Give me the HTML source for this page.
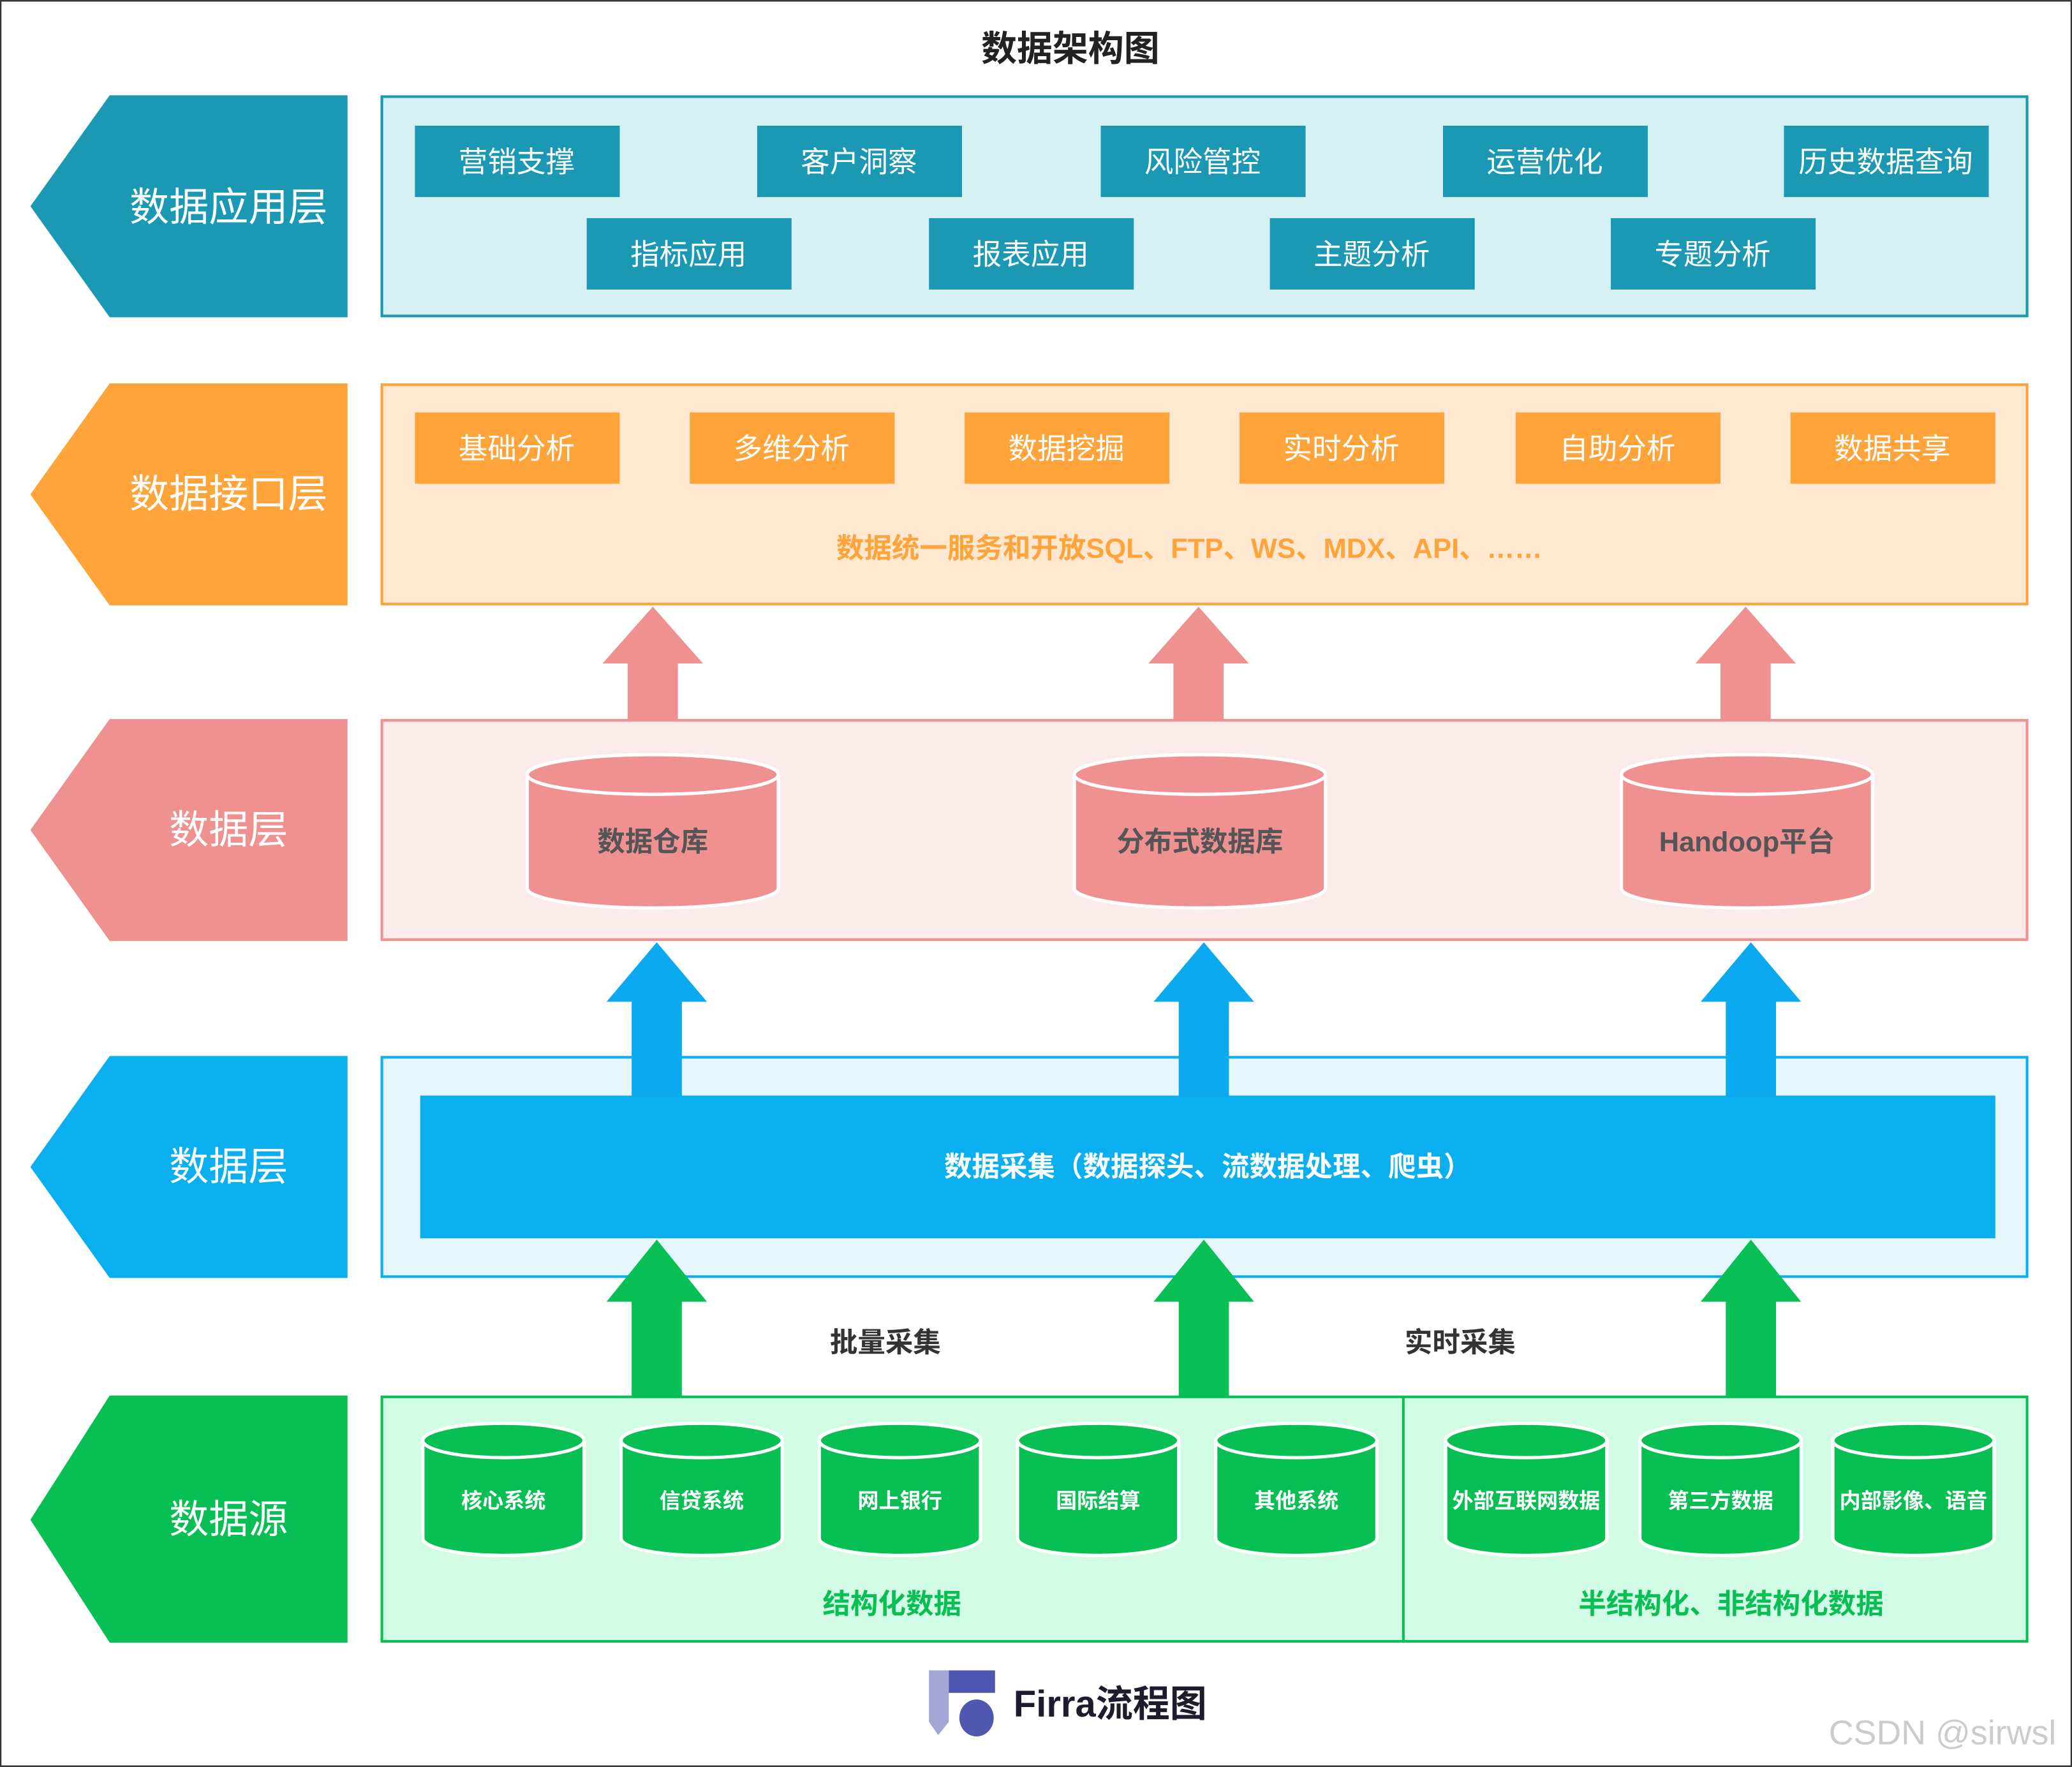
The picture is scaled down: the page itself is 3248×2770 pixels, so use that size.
<!DOCTYPE html>
<html><head><meta charset="utf-8"><style>
html,body{margin:0;padding:0;background:#fff}
svg{display:block}
text{font-family:"Liberation Sans","Noto Sans CJK SC",sans-serif}
</style></head><body>
<svg width="3248" height="2770" viewBox="0 0 1568 1337" xmlns="http://www.w3.org/2000/svg">
<rect x="0.5" y="0.5" width="1567" height="1336" fill="#fff" stroke="#333" stroke-width="1.2"/>
<text x="810" y="46" font-size="27" font-weight="bold" text-anchor="middle" fill="#222">数据架构图</text>

<!-- Layer 1 -->
<polygon points="83,72 263,72 263,240 83,240 23,156" fill="#1a98b4"/>
<text x="173" y="167" font-size="30" fill="#fff" text-anchor="middle">数据应用层</text>
<rect x="289" y="73" width="1245" height="166" fill="#d5f1f3" stroke="#1a98b4" stroke-width="2"/>
<g fill="#1a98b4">
<rect x="314" y="95" width="155" height="54"/><rect x="573" y="95" width="155" height="54"/><rect x="833" y="95" width="155" height="54"/><rect x="1092" y="95" width="155" height="54"/><rect x="1350" y="95" width="155" height="54"/>
<rect x="444" y="165" width="155" height="54"/><rect x="703" y="165" width="155" height="54"/><rect x="961" y="165" width="155" height="54"/><rect x="1219" y="165" width="155" height="54"/>
</g>
<g fill="#fff" font-size="22" text-anchor="middle">
<text x="391" y="130">营销支撑</text><text x="650" y="130">客户洞察</text><text x="910" y="130">风险管控</text><text x="1169" y="130">运营优化</text><text x="1427" y="130">历史数据查询</text>
<text x="521" y="200">指标应用</text><text x="780" y="200">报表应用</text><text x="1038" y="200">主题分析</text><text x="1296" y="200">专题分析</text>
</g>

<!-- Layer 2 -->
<polygon points="83,290 263,290 263,458 83,458 23,374" fill="#ffa43a"/>
<text x="173" y="384" font-size="30" fill="#fff" text-anchor="middle">数据接口层</text>
<rect x="289" y="291" width="1245" height="166" fill="#fee8d1" stroke="#ffa43a" stroke-width="2"/>
<g fill="#ffa43a">
<rect x="314" y="312" width="155" height="54"/><rect x="522" y="312" width="155" height="54"/><rect x="730" y="312" width="155" height="54"/><rect x="938" y="312" width="155" height="54"/><rect x="1147" y="312" width="155" height="54"/><rect x="1355" y="312" width="155" height="54"/>
</g>
<g fill="#fff" font-size="22" text-anchor="middle">
<text x="391" y="347">基础分析</text><text x="599" y="347">多维分析</text><text x="807" y="347">数据挖掘</text><text x="1015" y="347">实时分析</text><text x="1224" y="347">自助分析</text><text x="1432" y="347">数据共享</text>
</g>
<text x="900" y="422" font-size="21" font-weight="bold" fill="#ffa43a" text-anchor="middle">数据统一服务和开放SQL、FTP、WS、MDX、API、……</text>

<!-- pink arrows -->
<g fill="#ef9191">
<polygon points="494,459 532,502 513,502 513,575 475,575 475,502 456,502"/>
<polygon points="907,459 945,502 926,502 926,575 888,575 888,502 869,502"/>
<polygon points="1321,459 1359,502 1340,502 1340,575 1302,575 1302,502 1283,502"/>
</g>

<!-- Layer 3 -->
<polygon points="83,544 263,544 263,712 83,712 23,628" fill="#ef9191"/>
<text x="173" y="638" font-size="30" fill="#fff" text-anchor="middle">数据层</text>
<rect x="289" y="545" width="1245" height="166" fill="#fbeceb" stroke="#ef9191" stroke-width="2"/>
<g fill="#ef9191" stroke="#fff" stroke-width="2.5">
<path d="M399,586 A95,15 0 0 1 589,586 L589,672 A95,15 0 0 1 399,672 Z"/><ellipse cx="494" cy="586" rx="95" ry="15"/>
<path d="M813,586 A95,15 0 0 1 1003,586 L1003,672 A95,15 0 0 1 813,672 Z"/><ellipse cx="908" cy="586" rx="95" ry="15"/>
<path d="M1227,586 A95,15 0 0 1 1417,586 L1417,672 A95,15 0 0 1 1227,672 Z"/><ellipse cx="1322" cy="586" rx="95" ry="15"/>
</g>
<g fill="#555" font-size="21" font-weight="bold" text-anchor="middle">
<text x="494" y="644">数据仓库</text><text x="908" y="644">分布式数据库</text><text x="1322" y="644">Handoop平台</text>
</g>

<!-- blue arrows -->
<g fill="#0aa9f0">
<polygon points="497,713 535,758 516,758 516,830 478,830 478,758 459,758"/>
<polygon points="911,713 949,758 930,758 930,830 892,830 892,758 873,758"/>
<polygon points="1325,713 1363,758 1344,758 1344,830 1306,830 1306,758 1287,758"/>
</g>

<!-- Layer 4 -->
<polygon points="83,799 263,799 263,967 83,967 23,883" fill="#0aaff0"/>
<text x="173" y="893" font-size="30" fill="#fff" text-anchor="middle">数据层</text>
<rect x="289" y="800" width="1245" height="166" fill="#e6f6fd" stroke="#0aaff0" stroke-width="2"/>
<rect x="318" y="829" width="1192" height="108" fill="#0aaff0"/>
<rect x="478" y="800" width="38" height="30" fill="#0aa9f0"/><rect x="892" y="800" width="38" height="30" fill="#0aa9f0"/><rect x="1306" y="800" width="38" height="30" fill="#0aa9f0"/>
<text x="914" y="890" font-size="21" font-weight="bold" fill="#fff" text-anchor="middle">数据采集（数据探头、流数据处理、爬虫）</text>

<!-- green arrows -->
<g fill="#08c055">
<polygon points="497,938 535,985 516,985 516,1057 478,1057 478,985 459,985"/>
<polygon points="911,938 949,985 930,985 930,1057 892,1057 892,985 873,985"/>
<polygon points="1325,938 1363,985 1344,985 1344,1057 1306,1057 1306,985 1287,985"/>
</g>
<text x="670" y="1023" font-size="21" font-weight="bold" fill="#333" text-anchor="middle">批量采集</text>
<text x="1105" y="1023" font-size="21" font-weight="bold" fill="#333" text-anchor="middle">实时采集</text>

<!-- Layer 5 -->
<polygon points="83,1056 263,1056 263,1243 83,1243 23,1150" fill="#08bf54"/>
<text x="173" y="1160" font-size="30" fill="#fff" text-anchor="middle">数据源</text>
<rect x="289" y="1057" width="1245" height="185" fill="#d3fce6" stroke="#08bf54" stroke-width="2"/>
<line x1="1062" y1="1057" x2="1062" y2="1242" stroke="#08bf54" stroke-width="2"/>
<g fill="#08bf54" stroke="#fff" stroke-width="2.5">
<path d="M320,1090 A61,13 0 0 1 442,1090 L442,1164 A61,13 0 0 1 320,1164 Z"/><ellipse cx="381" cy="1090" rx="61" ry="13"/>
<path d="M470,1090 A61,13 0 0 1 592,1090 L592,1164 A61,13 0 0 1 470,1164 Z"/><ellipse cx="531" cy="1090" rx="61" ry="13"/>
<path d="M620,1090 A61,13 0 0 1 742,1090 L742,1164 A61,13 0 0 1 620,1164 Z"/><ellipse cx="681" cy="1090" rx="61" ry="13"/>
<path d="M770,1090 A61,13 0 0 1 892,1090 L892,1164 A61,13 0 0 1 770,1164 Z"/><ellipse cx="831" cy="1090" rx="61" ry="13"/>
<path d="M920,1090 A61,13 0 0 1 1042,1090 L1042,1164 A61,13 0 0 1 920,1164 Z"/><ellipse cx="981" cy="1090" rx="61" ry="13"/>
<path d="M1094,1090 A61,13 0 0 1 1216,1090 L1216,1164 A61,13 0 0 1 1094,1164 Z"/><ellipse cx="1155" cy="1090" rx="61" ry="13"/>
<path d="M1241,1090 A61,13 0 0 1 1363,1090 L1363,1164 A61,13 0 0 1 1241,1164 Z"/><ellipse cx="1302" cy="1090" rx="61" ry="13"/>
<path d="M1387,1090 A61,13 0 0 1 1509,1090 L1509,1164 A61,13 0 0 1 1387,1164 Z"/><ellipse cx="1448" cy="1090" rx="61" ry="13"/>
</g>
<g fill="#fff" font-size="16" font-weight="bold" text-anchor="middle">
<text x="381" y="1141">核心系统</text><text x="531" y="1141">信贷系统</text><text x="681" y="1141">网上银行</text><text x="831" y="1141">国际结算</text><text x="981" y="1141">其他系统</text>
<text x="1155" y="1141">外部互联网数据</text><text x="1302" y="1141">第三方数据</text><text x="1448" y="1141">内部影像、语音</text>
</g>
<text x="675" y="1221" font-size="21" font-weight="bold" fill="#08bf54" text-anchor="middle">结构化数据</text>
<text x="1310" y="1221" font-size="21" font-weight="bold" fill="#08bf54" text-anchor="middle">半结构化、非结构化数据</text>

<!-- logo -->
<polygon points="703,1264 718,1264 718,1303 710,1313 703,1303" fill="#a5a5d6"/>
<rect x="718" y="1264" width="35" height="17" fill="#5057b0"/>
<ellipse cx="739" cy="1300" rx="13" ry="14" fill="#5057b0"/>
<text x="767" y="1299" font-size="28" font-weight="bold" fill="#1c1c2c">Firra流程图</text>
<text x="1470" y="1320" font-size="26" fill="#ccc" text-anchor="middle">CSDN @sirwsl</text>
</svg>
</body></html>
